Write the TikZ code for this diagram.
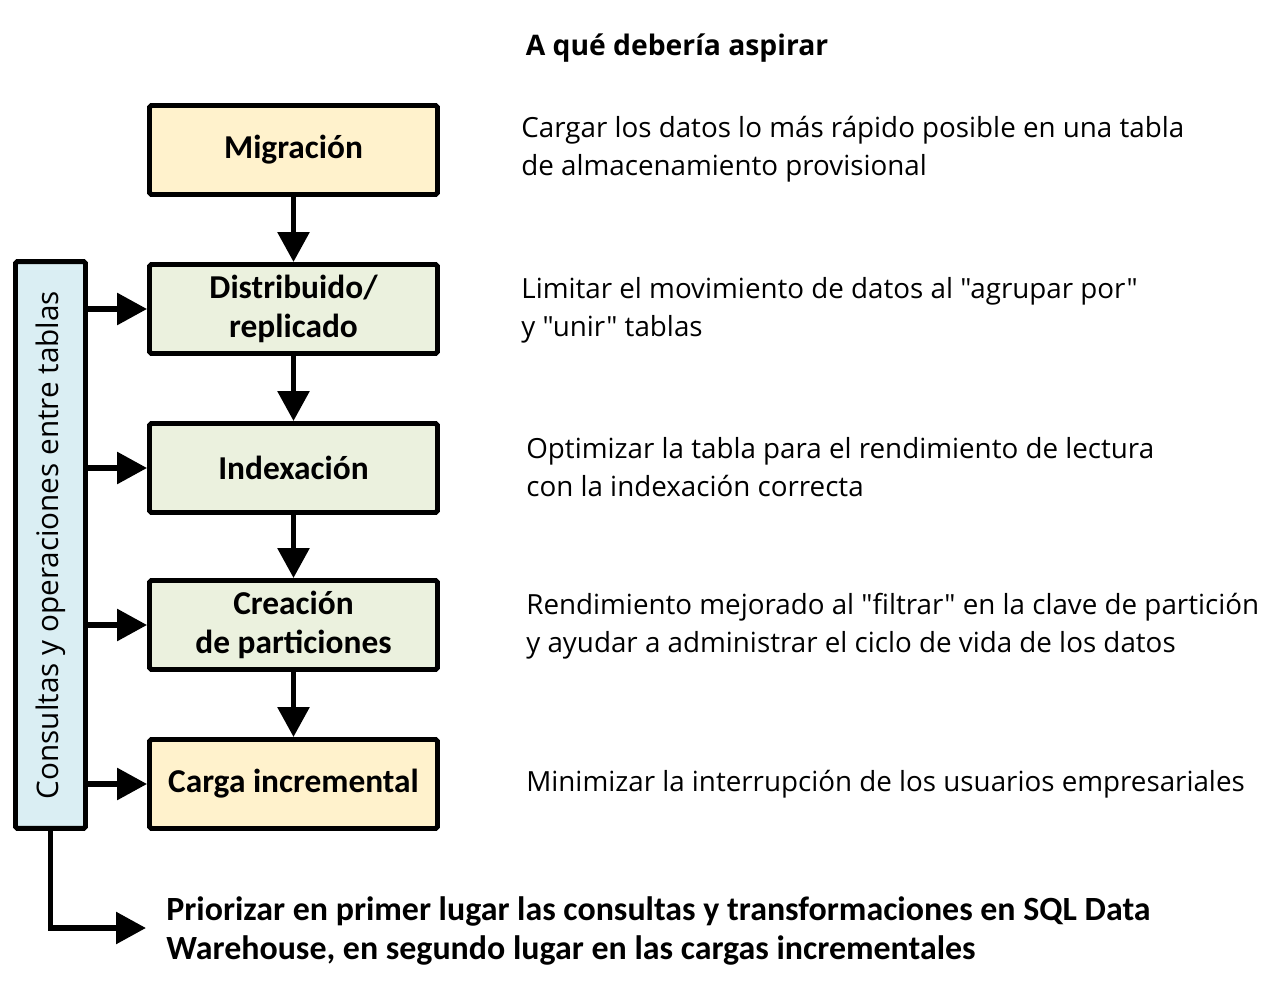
\documentclass[tikz,border=0pt]{standalone}
\usepackage{fontspec}
\setmainfont{Carlito}
\newfontfamily\segoe{Open Sans}
\usetikzlibrary{arrows.meta}

\definecolor{paleorange}{HTML}{FFF2CC}
\definecolor{palegreen}{HTML}{EBF1DE}
\definecolor{paleblue}{HTML}{DAEEF3}

\begin{document}
\begin{tikzpicture}[x=0.02cm,y=-0.02cm,
  stage/.style={draw,line width=2.8pt,rounded corners=1pt,minimum width=5.76cm,
    minimum height=1.78cm,align=center,font=\fontsize{19}{22}\selectfont\bfseries},
  goal/.style={anchor=west,align=left,inner sep=0pt,font=\segoe\fontsize{15.8}{21.6}\selectfont},
  flow/.style={line width=3.3pt,-{Triangle[length=0.6cm,width=0.62cm]}}]
\useasboundingbox (0,0) rectangle (1278,1000);

\node [font=\segoe\fontsize{16.1}{18}\selectfont\bfseries] (title) at (677,48) {A qué debería aspirar};

\node [stage,fill=paleorange] (mig) at (293.5,150) {Migración};
\node [stage,fill=palegreen] (dist) at (293.5,309) {Distribuido/\\replicado};
\node [stage,fill=palegreen] (idx) at (293.5,468) {Indexación};
\node [stage,fill=palegreen] (part) at (293.5,625) {Creación\\de particiones};
\node [stage,fill=paleorange] (inc) at (293.5,784) {Carga incremental};

\node [draw,line width=2.8pt,rounded corners=1pt,fill=paleblue,minimum width=11.34cm,
  minimum height=1.4cm,rotate=90,font=\segoe\fontsize{16.9}{18}\selectfont] (side) at (50.5,545)
  {Consultas y operaciones entre tablas};

% pasos
\draw [flow] (mig) -- (dist);
\draw [flow] (dist) -- (idx);
\draw [flow] (idx) -- (part);
\draw [flow] (part) -- (inc);

% desde consultas
\draw [flow] (side.south |- dist.west) -- (dist.west);
\draw [flow] (side.south |- idx.west) -- (idx.west);
\draw [flow] (side.south |- part.west) -- (part.west);
\draw [flow] (side.south |- inc.west) -- (inc.west);

\node [goal] (g1) at (521,149) {Cargar los datos lo más rápido posible en una tabla\\de almacenamiento provisional};
\node [goal] (g2) at (521,310) {Limitar el movimiento de datos al "agrupar por"\\y "unir" tablas};
\node [goal] (g3) at (526,467) {Optimizar la tabla para el rendimiento de lectura\\con la indexación correcta};
\node [goal] (g4) at (526,626) {Rendimiento mejorado al "filtrar" en la clave de partición\\y ayudar a administrar el ciclo de vida de los datos};
\node [goal] (g5) at (526,784) {Minimizar la interrupción de los usuarios empresariales};

\node [anchor=west,align=left,inner sep=0pt,font=\fontsize{19.3}{22}\selectfont\bfseries] (prio) at (166,931)
  {Priorizar en primer lugar las consultas y transformaciones en SQL Data\\Warehouse, en segundo lugar en las cargas incrementales};
\coordinate (tip) at (146,928);
\draw [flow] (side.west) |- (tip);
\end{tikzpicture}
\end{document}
